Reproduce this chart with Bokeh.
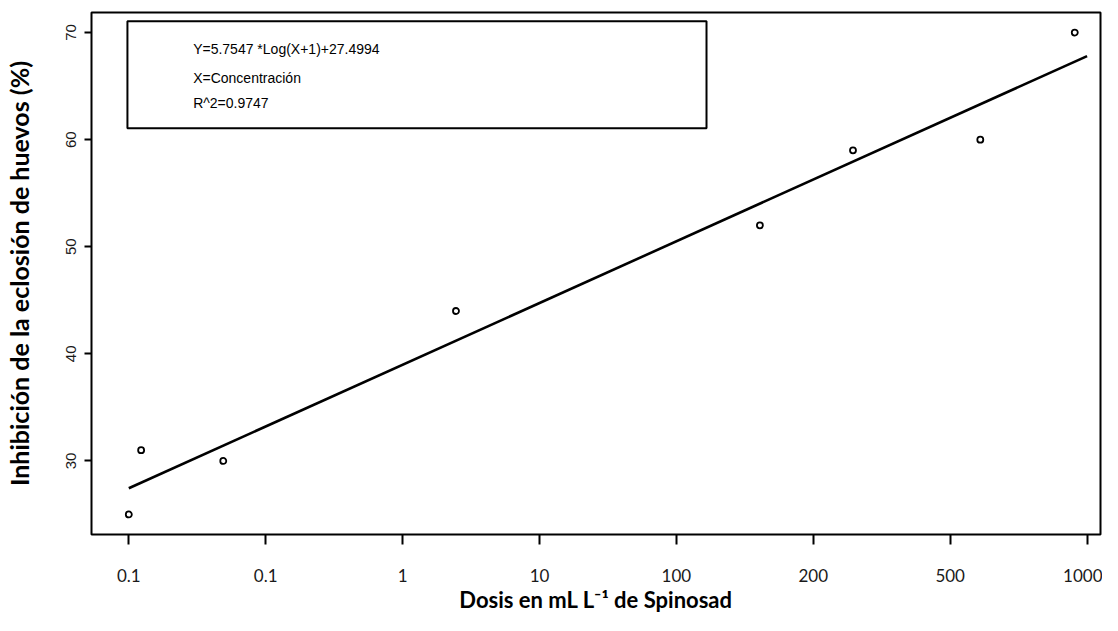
from bokeh.plotting import figure
from bokeh.models import FixedTicker, BoxAnnotation, Label, Range1d
from bokeh.embed import file_html
from bokeh.resources import INLINE

# ---- data ----
tick_positions = [0, 1, 2, 3, 4, 5, 6, 7]
tick_labels = ["0.1", "0.1", "1", "10", "100", "200", "500", "1000"]
dose_pos = [0.0, 0.09, 0.69, 2.39, 4.61, 5.29, 6.22, 6.91]
inhibition = [25, 31, 30, 44, 52, 59, 60, 70]
fit_x = [0, 7]
fit_y = [27.45, 67.8]
legend_lines = ["Y=5.7547 *Log(X+1)+27.4994", "X=Concentración", "R^2=0.9747"]
y_ticks = [30, 40, 50, 60, 70]
x_title = "Dosis en mL L\u207b\u00b9 de Spinosad"
y_title = "Inhibición de la eclosión de huevos (%)"

p = figure(width=1102, height=615, output_backend="svg", toolbar_location=None,
           x_range=Range1d(-0.2725, 7.098), y_range=Range1d(23.13, 71.87),
           min_border_left=91, min_border_right=2, min_border_top=12, min_border_bottom=80)
p.background_fill_color = "white"
p.border_fill_color = "white"
p.outline_line_color = "black"
p.outline_line_width = 2
p.xgrid.visible = False
p.ygrid.visible = False

# x axis
p.xaxis.ticker = FixedTicker(ticks=tick_positions)
p.xaxis.major_label_overrides = {t: l for t, l in zip(tick_positions, tick_labels)}
p.xaxis.axis_line_color = None
p.xaxis.major_tick_in = 0
p.xaxis.major_tick_out = 10
p.xaxis.major_tick_line_width = 2
p.xaxis.major_tick_line_color = "black"
p.xaxis.minor_tick_line_color = None
p.xaxis.major_label_text_font = "Lato"
p.xaxis.major_label_text_font_size = "17px"
p.xaxis.major_label_text_color = "#1a1a1a"
p.xaxis.major_label_standoff = 24
p.xaxis.axis_label = x_title
p.xaxis.axis_label_text_font = "Lato"
p.xaxis.axis_label_text_font_style = "bold"
p.xaxis.axis_label_text_font_size = "22px"
p.xaxis.axis_label_text_color = "black"
p.xaxis.axis_label_standoff = 1

# y axis
p.yaxis.ticker = FixedTicker(ticks=y_ticks)
p.yaxis.axis_line_color = None
p.yaxis.major_tick_in = 0
p.yaxis.major_tick_out = 7
p.yaxis.major_tick_line_width = 2
p.yaxis.major_tick_line_color = "black"
p.yaxis.minor_tick_line_color = None
p.yaxis.major_label_orientation = "vertical"
p.yaxis.major_label_text_font = "Liberation Sans"
p.yaxis.major_label_text_font_size = "15px"
p.yaxis.major_label_text_color = "#1a1a1a"
p.yaxis.major_label_standoff = 8
p.yaxis.axis_label = y_title
p.yaxis.axis_label_text_font = "Lato"
p.yaxis.axis_label_text_font_style = "bold"
p.yaxis.axis_label_text_font_size = "25px"
p.yaxis.axis_label_text_color = "black"
p.yaxis.axis_label_standoff = 30

# fitted line and points
p.line(fit_x, fit_y, line_color="black", line_width=2.6)
p.scatter(dose_pos, inhibition, marker="circle", size=6, fill_color="white",
          line_color="black", line_width=1.8)

# legend box
p.add_layout(BoxAnnotation(left=-0.01, right=4.22, top=71.05, bottom=61.07,
                           fill_color=None, fill_alpha=0, line_color="black",
                           line_alpha=1, line_width=2))
legend_y = [68.44, 65.74, 63.4]
for txt, yy in zip(legend_lines, legend_y):
    p.add_layout(Label(x=0.47, y=yy, text=txt, text_baseline="middle",
                       text_font="Liberation Sans", text_font_size="14px",
                       text_color="black"))

open("out.html", "w").write(file_html(p, INLINE))
